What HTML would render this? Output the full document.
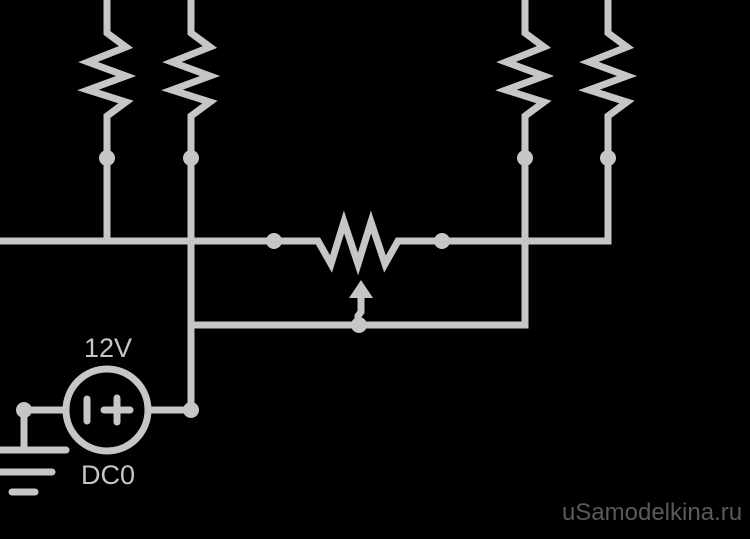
<!DOCTYPE html>
<html><head><meta charset="utf-8"><style>
html,body{margin:0;padding:0;background:#000;width:750px;height:539px;overflow:hidden}
</style></head><body>
<svg width="750" height="539" viewBox="0 0 750 539" xmlns="http://www.w3.org/2000/svg">
<rect width="750" height="539" fill="#000"/>
<g stroke="#c6c6c6" stroke-width="7" fill="none" stroke-linejoin="miter" stroke-linecap="butt">
<path d="M107 0 V33 L126 47 L88 62 L126 76 L88 90 L126 102 L107 116 V241"/>
<path d="M191 0 V33 L210 47 L172 62 L210 76 L172 90 L210 102 L191 116 V410"/>
<path d="M525 0 V33 L544 47 L506 62 L544 76 L506 90 L544 102 L525 116 V241"/>
<path d="M608 0 V33 L627 47 L589 62 L627 76 L589 90 L627 102 L608 116 V241 H398 L385 264 L371 222 L358 264 L344 222 L331 264 L318 241 H0"/>
<path d="M191 325 H525 V241"/>
<path d="M361 296 V312 L358 316 V325"/>
<circle cx="107" cy="410" r="41"/>
<path d="M149 410 H191"/>
<path d="M65 410 H24 V450"/>
<path d="M0 450 H66" stroke-linecap="round"/>
<path d="M0 472 H52" stroke-linecap="round"/>
<path d="M12 492 H35" stroke-linecap="round"/>
<path d="M87 399 V421" stroke-linecap="round"/>
<path d="M104 410 H130 M117 398 V422" stroke-linecap="round"/>
</g>
<g fill="#c6c6c6">
<polygon points="361,280 373,298 349,298"/>
<circle cx="107" cy="158" r="8"/>
<circle cx="191" cy="158" r="8"/>
<circle cx="525" cy="158" r="8"/>
<circle cx="608" cy="158" r="8"/>
<circle cx="274" cy="241" r="8"/>
<circle cx="442" cy="241" r="8"/>
<circle cx="359" cy="325" r="8"/>
<circle cx="191" cy="410" r="8"/>
<circle cx="24" cy="410" r="8"/>
</g>
<g fill="#c6c6c6" font-family="Liberation Sans, sans-serif" font-size="27" text-anchor="middle">
<text x="108" y="357">12V</text>
<text x="108" y="484">DC0</text>
</g>
<text x="652" y="520" fill="#5a5a5a" font-family="Liberation Sans, sans-serif" font-size="24" text-anchor="middle">uSamodelkina.ru</text>
</svg>
</body></html>
